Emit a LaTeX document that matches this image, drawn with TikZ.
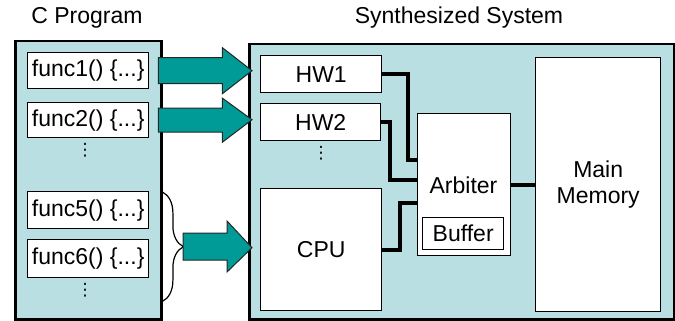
\documentclass[tikz,border=0pt]{standalone}
\usepackage{fontspec}
\setmainfont{Liberation Sans}
\newfontfamily\dejavu{DejaVu Sans}
\usetikzlibrary{calc,decorations.pathreplacing}
\definecolor{panelblue}{HTML}{BADFE2}
\definecolor{teal}{HTML}{009A97}
\begin{document}
\begin{tikzpicture}[x=1pt,y=-1pt,
  panel/.style={draw=black,line width=2.5pt,fill=panelblue,anchor=north west,inner sep=0pt},
  box/.style={draw=black,line width=1.4pt,fill=white,anchor=north west,inner sep=0pt,
    font=\fontsize{23}{27}\selectfont},
  title/.style={font=\fontsize{23}{27}\selectfont,inner sep=0pt},
  dotsn/.style={font=\dejavu\fontsize{17}{20}\selectfont,inner sep=0pt},
  wire/.style={line width=4pt,draw=black},
  bigarrow/.style={draw=black!85,line width=1pt,fill=teal,line join=miter}]
\useasboundingbox (0,0) rectangle (675,321);
% titles
\node[title] (t1) at (87,18) {C Program};
\node[title] (t2) at (459,18) {Synthesized System};
% panels
\node[panel,minimum width=146pt,minimum height=278pt] (lp) at (14,40) {};
\node[panel,minimum width=425pt,minimum height=275pt] (rp) at (248,43) {};
% functions
\node[box,minimum width=121pt,minimum height=36pt] (f1) at (27,52) {func1() \{...\}};
\node[box,minimum width=121pt,minimum height=35pt] (f2) at (27,102) {func2() \{...\}};
\node[dotsn] (d1) at (85,150) {⋮};
\node[box,minimum width=121pt,minimum height=37pt] (f5) at (27,191) {func5() \{...\}};
\node[box,minimum width=121pt,minimum height=38pt] (f6) at (27,239) {func6() \{...\}};
\node[dotsn] (d2) at (85,290) {⋮};
% system blocks
\node[box,minimum width=121pt,minimum height=37pt] (hw1) at (260,55) {HW1};
\node[box,minimum width=120pt,minimum height=37pt] (hw2) at (260,103) {HW2};
\node[dotsn] (d3) at (321,153) {⋮};
\node[box,minimum width=121pt,minimum height=122pt] (cpu) at (260,188) {CPU};
\node[box,minimum width=93pt,minimum height=142pt] (arb) at (417,113) {};
\node[title] (arbt) at (463.5,185) {Arbiter};
\node[box,minimum width=81pt,minimum height=32pt] (buf) at (422,217) {Buffer};
\node[box,minimum width=125pt,minimum height=254pt,align=center] (mm) at (535,57) {Main\\[-1pt]Memory};
% wires
\draw[wire] (hw1.east) -| ($(arb.north west)+(-9,47)$) -- ($(arb.north west)+(0,47)$);
\draw[wire] (hw2.east) -| ($(arb.north west)+(-27,67)$) -- ($(arb.north west)+(0,67)$);
\draw[wire] (cpu.east) -| ($(arb.north west)+(-17,90)$) -- ($(arb.north west)+(0,90)$);
\draw[wire] (arb.east) -- (mm.west |- arb.east);
% big arrows
\draw[bigarrow] ($(f1.east)+(9,-13)$) -- ++(64,0) -- ++(0,-10) -- ($(hw1.west)+(-8,-3.5)$)
  -- ($(f1.east)+(73,23)$) -- ++(0,-10) -- ++(-64,0) -- cycle;
\draw[bigarrow] ($(f2.east)+(9,-12)$) -- ++(64,0) -- ++(0,-10) -- ($(hw2.west)+(-8,-2.5)$)
  -- ($(f2.east)+(73,22)$) -- ++(0,-10) -- ++(-64,0) -- cycle;
\draw[decorate,decoration={brace,amplitude=21pt,aspect=0.5},line width=1.2pt]
  ($(f5.north east)+(13,1)$) -- ($(f6.south east)+(13,23)$);
\draw[bigarrow] (183,233) -- (227,233) -- (227,221) -- ($(cpu.west)+(-8,-2)$)
  -- (227,272) -- (227,260) -- (183,260) -- cycle;
\end{tikzpicture}
\end{document}
